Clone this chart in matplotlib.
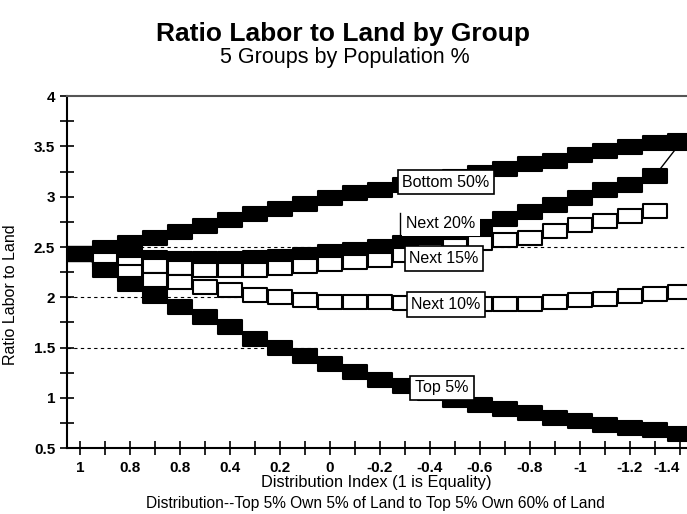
import numpy as np
import matplotlib
matplotlib.use("Agg")
import matplotlib.pyplot as plt
from matplotlib.path import Path
from matplotlib.ticker import MultipleLocator, FuncFormatter

plt.rcParams['font.family'] = ['Liberation Sans', 'DejaVu Sans']

# distribution index (1 = equality)
dist_index = [1.0, 0.9, 0.8, 0.7, 0.6, 0.5, 0.4, 0.3, 0.2, 0.1, 0.0, -0.1, -0.2,
              -0.3, -0.4, -0.5, -0.6, -0.7, -0.8, -0.9, -1.0, -1.1, -1.2, -1.3, -1.4]

bottom50 = [2.43, 2.49, 2.54, 2.59, 2.65, 2.71, 2.77, 2.83, 2.88, 2.93, 2.99, 3.04, 3.07,
            3.12, 3.16, 3.20, 3.24, 3.28, 3.33, 3.36, 3.41, 3.45, 3.49, 3.53, 3.55]
next20 = [2.43, 2.42, 2.40, 2.39, 2.38, 2.38, 2.38, 2.39, 2.40, 2.42, 2.45, 2.47, 2.50,
          2.54, 2.57, 2.61, 2.70, 2.78, 2.85, 2.92, 2.99, 3.07, 3.12, 3.21, 3.53]
next15 = [2.43, 2.39, 2.33, 2.31, 2.29, 2.27, 2.27, 2.27, 2.29, 2.31, 2.33, 2.35, 2.37,
          2.42, 2.46, 2.51, 2.54, 2.57, 2.59, 2.66, 2.72, 2.76, 2.81, 2.86, np.nan]
next10 = [2.43, 2.37, 2.25, 2.17, 2.15, 2.10, 2.07, 2.02, 2.00, 1.97, 1.95, 1.95, 1.95,
          1.94, 1.94, 1.93, 1.93, 1.93, 1.93, 1.95, 1.97, 1.98, 2.01, 2.03, 2.05]
top5 = [2.43, 2.27, 2.13, 2.01, 1.90, 1.80, 1.70, 1.59, 1.50, 1.42, 1.34, 1.26, 1.18,
        1.12, 1.05, 0.98, 0.93, 0.89, 0.85, 0.80, 0.77, 0.73, 0.70, 0.68, 0.64]

x_major = [1.0, 0.8, 0.6, 0.4, 0.2, 0.0, -0.2, -0.4, -0.6, -0.8, -1.0, -1.2, -1.4]
x_labels = ['1', '0.8', '0.8', '0.4', '0.2', '0', '-0.2', '-0.4', '-0.6', '-0.8', '-1', '-1.2', '-1.4']

# wide rectangle marker like the old chart
rect = Path([(-1, -0.6), (1, -0.6), (1, 0.6), (-1, 0.6), (-1, -0.6)],
            [Path.MOVETO, Path.LINETO, Path.LINETO, Path.LINETO, Path.CLOSEPOLY])

fig = plt.figure(figsize=(6.87, 5.14), dpi=100)
ax = fig.add_axes([0.0975, 0.128, 0.9025, 0.685])

for yv in [1.5, 2.0, 2.5]:
    ax.axhline(yv, color='black', lw=0.8, ls=(0, (3, 3)), zorder=1)

series = [(bottom50, 'black'), (next20, 'black'), (next15, 'white'),
          (next10, 'white'), (top5, 'black')]
for i, (vals, fc) in enumerate(series):
    ax.plot(dist_index, vals, color='black', lw=1, marker=rect, ms=17.5,
            mfc=fc, mec='black', mew=1.5, zorder=3 + i)

lbl = dict(fontsize=11.5, ha='center', va='center', zorder=20)
box = dict(boxstyle='square,pad=0.3', fc='white', ec='black', lw=1.2)
ax.text(-0.464, 3.145, 'Bottom 50%', bbox=box, **lbl)
ax.text(-0.444, 2.73, 'Next 20%', bbox=dict(boxstyle='square,pad=0.3', fc='white', ec='none'), **lbl)
ax.plot([-0.28, -0.28], [2.62, 2.84], color='black', lw=1, zorder=21)
ax.text(-0.456, 2.385, 'Next 15%', bbox=box, **lbl)
ax.text(-0.464, 1.93, 'Next 10%', bbox=box, **lbl)
ax.text(-0.448, 1.10, 'Top 5%', bbox=box, **lbl)

ax.set_xlim(1.052, -1.428)
ax.set_ylim(0.5, 4)
ax.set_xticks(x_major)
ax.set_xticklabels(x_labels)
ax.xaxis.set_minor_locator(MultipleLocator(0.1))
ax.yaxis.set_major_locator(MultipleLocator(0.5))
ax.yaxis.set_minor_locator(MultipleLocator(0.25))
ax.yaxis.set_major_formatter(FuncFormatter(lambda v, p: '%g' % v))
ax.tick_params(which='both', direction='inout', length=10, width=1.2, labelsize=11)
ax.tick_params(axis='x', pad=4)
for t in ax.get_xticklabels() + ax.get_yticklabels():
    t.set_fontweight('bold')
ax.get_xticklabels()[-1].set_horizontalalignment('right')

ax.spines['right'].set_visible(False)
ax.spines['top'].set_color('#555555')
ax.spines['top'].set_linewidth(1.5)
ax.spines['left'].set_linewidth(1.5)
ax.spines['bottom'].set_linewidth(1.5)

ax.set_ylabel('Ratio Labor to Land', fontsize=11.5)
ax.yaxis.set_label_coords(-0.079, 0.435)

fig.text(0.5, 0.934, 'Ratio Labor to Land by Group', fontsize=19, fontweight='bold',
         ha='center', va='center')
fig.text(0.502, 0.888, '5 Groups by Population %', fontsize=15.5, ha='center', va='center')
fig.text(0.547, 0.062, 'Distribution Index (1 is Equality)', fontsize=11.8,
         ha='center', va='center')
fig.text(0.547, 0.021, 'Distribution--Top 5% Own 5% of Land to Top 5% Own 60% of Land',
         fontsize=11.2, ha='center', va='center')

fig.savefig('out.png', dpi=100)
